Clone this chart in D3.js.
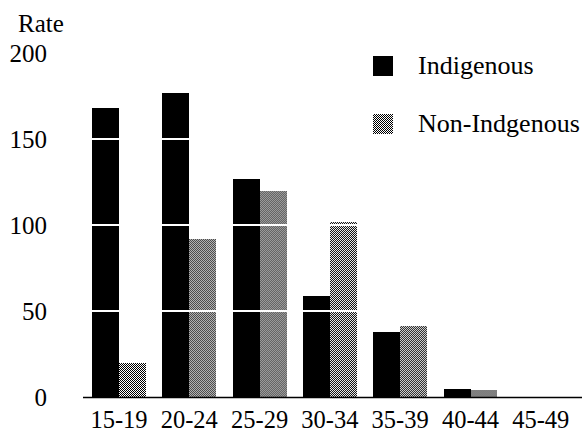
<!DOCTYPE html>
<html>
<head>
<meta charset="utf-8">
<script src="https://cdn.jsdelivr.net/npm/d3@7"></script>
<style>
  html, body { margin: 0; padding: 0; background: #fff; }
  svg { display: block; }
  text { font-family: "Liberation Serif", "DejaVu Serif", serif; fill: #000; }
</style>
</head>
<body>
<svg id="chart" width="587" height="435"></svg>
<script>
const categories = ["15-19", "20-24", "25-29", "30-34", "35-39", "40-44", "45-49"];
const seriesNames = ["Indigenous", "Non-Indigenous"];
const legendLabels = ["Indigenous", "Non-Indgenous"];
const indigenous = [168, 177, 127, 59, 38, 4.5, 0];
const nonIndigenous = [20, 92, 120, 102, 41, 4, 0];
const yTicks = [0, 50, 100, 150, 200];
const gridValues = [50, 100, 150];

const svg = d3.select("#chart");

// pattern for Non-Indigenous stipple
const defs = svg.append("defs");
const pat = defs.append("pattern")
  .attr("id", "stipple").attr("patternUnits", "userSpaceOnUse")
  .attr("width", 2).attr("height", 2);
pat.append("rect").attr("width", 2).attr("height", 2).attr("fill", "#fff");
pat.append("rect").attr("x", 0).attr("y", 0).attr("width", 1).attr("height", 1).attr("fill", "#000");
pat.append("rect").attr("x", 1).attr("y", 1).attr("width", 1).attr("height", 1).attr("fill", "#000");

const x0 = d3.scaleBand().domain(categories).range([92, 567.8]).paddingInner(0.232).paddingOuter(0);
const x1 = d3.scaleBand().domain(seriesNames).range([0, x0.bandwidth()]).padding(0);
const y = d3.scaleLinear().domain([0, 200]).range([397, 53]);
const color = d3.scaleOrdinal().domain(seriesNames).range(["#000", "url(#stipple)"]);

const rows = categories.map((c, i) => ({ cat: c, vals: [
  { key: seriesNames[0], v: indigenous[i] },
  { key: seriesNames[1], v: nonIndigenous[i] }
]}));

const g = svg.append("g").attr("shape-rendering", "crispEdges");
g.selectAll("g.grp").data(rows).join("g")
  .attr("class", "grp")
  .attr("transform", d => `translate(${x0(d.cat)},0)`)
  .selectAll("rect").data(d => d.vals).join("rect")
  .attr("x", d => x1(d.key))
  .attr("width", x1.bandwidth())
  .attr("y", d => y(d.v))
  .attr("height", d => y(0) - y(d.v))
  .attr("fill", d => color(d.key));

// white gridlines across bars
svg.append("g").selectAll("line").data(gridValues).join("line")
  .attr("x1", 83).attr("x2", 582)
  .attr("y1", d => y(d)).attr("y2", d => y(d))
  .attr("stroke", "#fff").attr("stroke-width", 2);

// baseline
svg.append("line").attr("x1", 83).attr("x2", 582)
  .attr("y1", y(0) + 0.5).attr("y2", y(0) + 0.5)
  .attr("stroke", "#000").attr("stroke-width", 1.5);

// y tick labels
svg.append("g").selectAll("text").data(yTicks).join("text")
  .attr("x", 47).attr("y", d => y(d) + 8.5)
  .attr("text-anchor", "end").attr("font-size", 25)
  .text(d => d);

svg.append("text").attr("x", 18).attr("y", 32).attr("font-size", 25).text("Rate");

// x labels
svg.append("g").selectAll("text").data(categories).join("text")
  .attr("x", d => x0(d) + x0.bandwidth() / 2).attr("y", 428)
  .attr("text-anchor", "middle").attr("font-size", 24.5)
  .text(d => d);

// legend
const leg = svg.append("g").attr("shape-rendering", "crispEdges");
const legY = [56, 114];
seriesNames.forEach((s, i) => {
  leg.append("rect").attr("x", 373).attr("y", legY[i]).attr("width", 20).attr("height", 20)
    .attr("fill", color(s));
  leg.append("text").attr("x", 418).attr("y", legY[i] + 18).attr("font-size", 26)
    .text(legendLabels[i]);
});
</script>
</body>
</html>
